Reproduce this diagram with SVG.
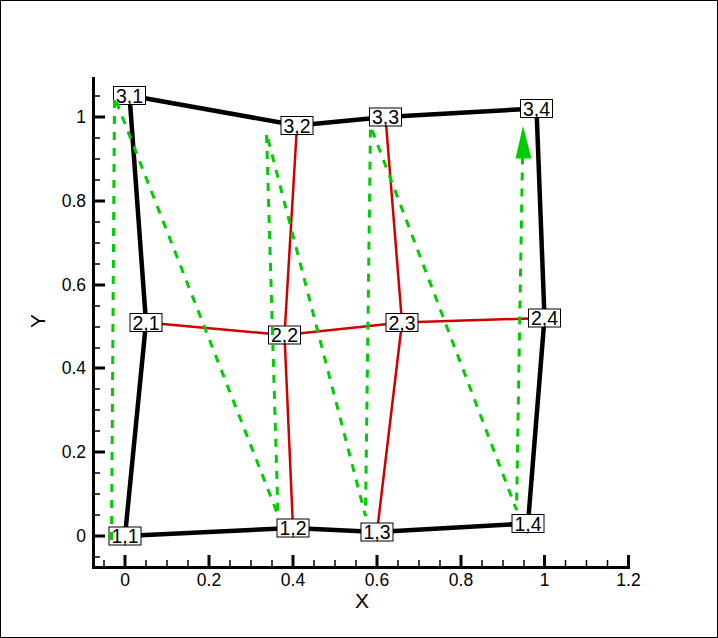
<svg xmlns="http://www.w3.org/2000/svg" width="718" height="638" viewBox="0 0 718 638">
<style>
.ax{stroke:#000;stroke-width:3;fill:none}
.tk{stroke:#000;stroke-width:1.5}
.tkM{stroke:#000;stroke-width:3}
.lbl{font-family:"Liberation Sans",Arial,sans-serif;font-size:17.5px;fill:#000}
.ttl{font-family:"Liberation Sans",Arial,sans-serif;font-size:21px;fill:#000}
.bnd{stroke:#000;stroke-width:4.5;fill:none;stroke-linejoin:round}
.int{stroke:#d00000;stroke-width:2.5;fill:none;stroke-linejoin:round}
.box{fill:#fff;stroke:#000;stroke-width:1}
.nt{font-family:"Liberation Sans",Arial,sans-serif;font-size:19.5px;fill:#000;text-anchor:middle}
.grn{stroke:#00cc00;stroke-width:3;fill:none;stroke-dasharray:8 8}
</style>
<rect x="0.5" y="0.5" width="717" height="637" fill="#fff" stroke="#000" stroke-width="1"/>
<g id="axes">
<line class="ax" x1="93.5" y1="77" x2="93.5" y2="569"/>
<line class="ax" x1="92" y1="567.5" x2="630" y2="567.5"/>
<g id="yticks">
<line class="tk" x1="93" y1="96" x2="100" y2="96"/>
<line class="tkM" x1="93" y1="117" x2="105" y2="117"/>
<line class="tk" x1="93" y1="138" x2="100" y2="138"/>
<line class="tk" x1="93" y1="159" x2="100" y2="159"/>
<line class="tk" x1="93" y1="180" x2="100" y2="180"/>
<line class="tkM" x1="93" y1="201" x2="105" y2="201"/>
<line class="tk" x1="93" y1="222" x2="100" y2="222"/>
<line class="tk" x1="93" y1="243" x2="100" y2="243"/>
<line class="tk" x1="93" y1="264" x2="100" y2="264"/>
<line class="tkM" x1="93" y1="285" x2="105" y2="285"/>
<line class="tk" x1="93" y1="306" x2="100" y2="306"/>
<line class="tk" x1="93" y1="327" x2="100" y2="327"/>
<line class="tk" x1="93" y1="348" x2="100" y2="348"/>
<line class="tkM" x1="93" y1="368" x2="105" y2="368"/>
<line class="tk" x1="93" y1="389" x2="100" y2="389"/>
<line class="tk" x1="93" y1="410" x2="100" y2="410"/>
<line class="tk" x1="93" y1="431" x2="100" y2="431"/>
<line class="tkM" x1="93" y1="452" x2="105" y2="452"/>
<line class="tk" x1="93" y1="473" x2="100" y2="473"/>
<line class="tk" x1="93" y1="494" x2="100" y2="494"/>
<line class="tk" x1="93" y1="515" x2="100" y2="515"/>
<line class="tkM" x1="93" y1="536" x2="105" y2="536"/>
<line class="tk" x1="93" y1="557" x2="100" y2="557"/>
</g>
<g id="xticks">
<line class="tk" x1="104" y1="567" x2="104" y2="560"/>
<line class="tkM" x1="125" y1="567" x2="125" y2="555"/>
<line class="tk" x1="146" y1="567" x2="146" y2="560"/>
<line class="tk" x1="167" y1="567" x2="167" y2="560"/>
<line class="tk" x1="188" y1="567" x2="188" y2="560"/>
<line class="tkM" x1="209" y1="567" x2="209" y2="555"/>
<line class="tk" x1="230" y1="567" x2="230" y2="560"/>
<line class="tk" x1="251" y1="567" x2="251" y2="560"/>
<line class="tk" x1="272" y1="567" x2="272" y2="560"/>
<line class="tkM" x1="293" y1="567" x2="293" y2="555"/>
<line class="tk" x1="314" y1="567" x2="314" y2="560"/>
<line class="tk" x1="335" y1="567" x2="335" y2="560"/>
<line class="tk" x1="356" y1="567" x2="356" y2="560"/>
<line class="tkM" x1="377" y1="567" x2="377" y2="555"/>
<line class="tk" x1="398" y1="567" x2="398" y2="560"/>
<line class="tk" x1="419" y1="567" x2="419" y2="560"/>
<line class="tk" x1="440" y1="567" x2="440" y2="560"/>
<line class="tkM" x1="461" y1="567" x2="461" y2="555"/>
<line class="tk" x1="482" y1="567" x2="482" y2="560"/>
<line class="tk" x1="503" y1="567" x2="503" y2="560"/>
<line class="tk" x1="524" y1="567" x2="524" y2="560"/>
<line class="tkM" x1="544.5" y1="567" x2="544.5" y2="555"/>
<line class="tk" x1="565.5" y1="567" x2="565.5" y2="560"/>
<line class="tk" x1="586.5" y1="567" x2="586.5" y2="560"/>
<line class="tk" x1="607.5" y1="567" x2="607.5" y2="560"/>
<line class="tkM" x1="628.5" y1="567" x2="628.5" y2="555"/>
</g>
<g class="lbl" text-anchor="end">
<text x="86" y="542">0</text>
<text x="86" y="458">0.2</text>
<text x="86" y="374">0.4</text>
<text x="86" y="291">0.6</text>
<text x="86" y="207">0.8</text>
<text x="86" y="123">1</text>
</g>
<g class="lbl" text-anchor="middle">
<text x="125" y="586">0</text>
<text x="209" y="586">0.2</text>
<text x="293" y="586">0.4</text>
<text x="377" y="586">0.6</text>
<text x="461" y="586">0.8</text>
<text x="544.5" y="586">1</text>
<text x="628.5" y="586">1.2</text>
</g>
<text class="ttl" x="362" y="608" text-anchor="middle">X</text>
<text class="ttl" transform="translate(45,321) rotate(-90)" text-anchor="middle">Y</text>
</g>
<g id="connectors">
<polyline class="int" points="146,322.5 284.5,335 402,322.5 544.5,318"/>
<polyline class="int" points="293,528 284.5,335 297,125.5"/>
<polyline class="int" points="377,532 402,322.5 385.5,117"/>
<polyline class="bnd" points="125,536 293,528 377,532 528,523.5"/>
<polyline class="bnd" points="129.5,95.5 297,125.5 385.5,117 536.5,108.5"/>
<polyline class="bnd" points="125,536 146,322.5 129.5,95.5"/>
<polyline class="bnd" points="528,523.5 544.5,318 536.5,108.5"/>
</g>
<g id="n11"><rect class="box" x="109" y="527" width="32" height="18"/><text class="nt" x="125" y="543">1,1</text></g>
<g id="n12"><rect class="box" x="277" y="519" width="32" height="18"/><text class="nt" x="293" y="535">1,2</text></g>
<g id="n13"><rect class="box" x="361" y="523" width="32" height="18"/><text class="nt" x="377" y="539">1,3</text></g>
<g id="n14"><rect class="box" x="512" y="514.5" width="32" height="18"/><text class="nt" x="528" y="530.5">1,4</text></g>
<g id="n21"><rect class="box" x="130" y="313.5" width="32" height="18"/><text class="nt" x="146" y="329.5">2,1</text></g>
<g id="n22"><rect class="box" x="268.5" y="326" width="32" height="18"/><text class="nt" x="284.5" y="342">2,2</text></g>
<g id="n23"><rect class="box" x="386" y="313.5" width="32" height="18"/><text class="nt" x="402" y="329.5">2,3</text></g>
<g id="n24"><rect class="box" x="528.5" y="309" width="32" height="18"/><text class="nt" x="544.5" y="325">2,4</text></g>
<g id="n31"><rect class="box" x="113.5" y="86.5" width="32" height="18"/><text class="nt" x="129.5" y="102.5">3,1</text></g>
<g id="n32"><rect class="box" x="281" y="116.5" width="32" height="18"/><text class="nt" x="297" y="132.5">3,2</text></g>
<g id="n33"><rect class="box" x="369.5" y="108" width="32" height="18"/><text class="nt" x="385.5" y="124">3,3</text></g>
<g id="n34"><rect class="box" x="520.5" y="99.5" width="32" height="18"/><text class="nt" x="536.5" y="115.5">3,4</text></g>
<g id="path">
<polyline class="grn" points="111.5,540 114.5,97 278,515 266.5,133 365.5,516 370.5,126 516.5,510 522.5,158"/>
<polygon points="523,126 515.5,158.5 531.5,158.5" fill="#00cc00"/>
</g>
</svg>
